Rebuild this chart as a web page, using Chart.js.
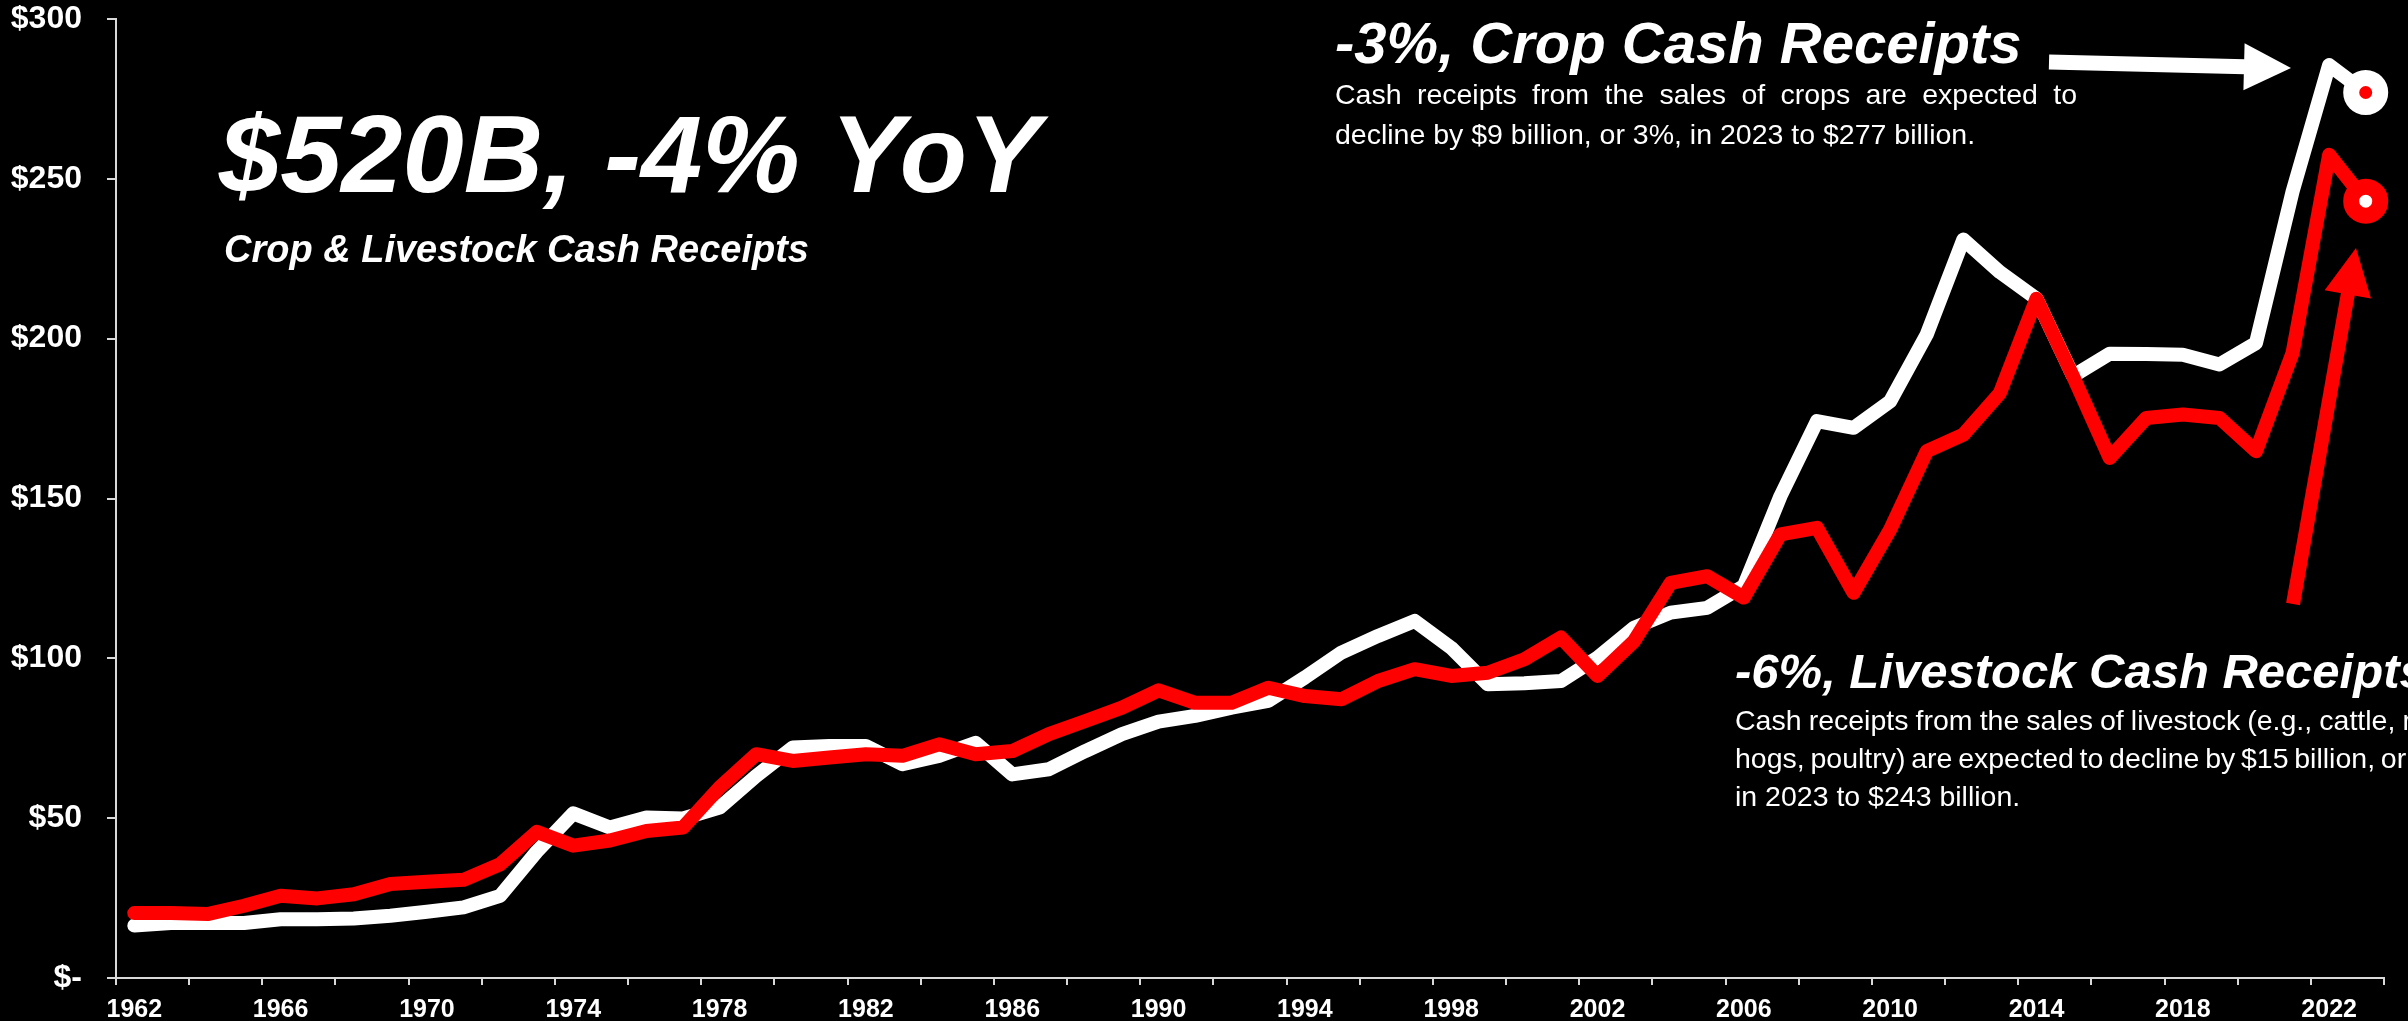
<!DOCTYPE html>
<html><head><meta charset="utf-8">
<script src="https://cdn.jsdelivr.net/npm/chart.js@4.4.1/dist/chart.umd.min.js"></script>
<style>html,body{margin:0;padding:0;background:#000;overflow:hidden}canvas{display:block}</style>
</head><body>
<canvas id="c" width="2408" height="1021" style="width:2408px;height:1021px"></canvas>
<script>
// ---------------- DATA ----------------
const years = ['1962','1963','1964','1965','1966','1967','1968','1969','1970','1971',
  '1972','1973','1974','1975','1976','1977','1978','1979','1980','1981',
  '1982','1983','1984','1985','1986','1987','1988','1989','1990','1991',
  '1992','1993','1994','1995','1996','1997','1998','1999','2000','2001',
  '2002','2003','2004','2005','2006','2007','2008','2009','2010','2011',
  '2012','2013','2014','2015','2016','2017','2018','2019','2020','2021',
  '2022','2023'];

// Crop cash receipts, $ billions (white line)
const cropReceipts = [16.4,17.2,17.2,17.2,18.4,18.4,18.6,19.5,20.7,22.1,
  25.7,39.5,51.5,47.1,50.2,49.9,53.3,63.2,72.1,72.6,
  72.6,66.9,69.5,73.6,63.7,65.3,71.0,76.3,80.2,82.0,
  84.6,86.7,94.0,101.8,107.0,111.7,103.3,91.9,92.2,92.9,
  100.2,109.6,114.3,115.8,122.6,150.7,174.2,172.1,180.4,201.3,
  231.0,220.8,212.5,188.3,195.3,195.2,195.0,191.9,198.6,246.0,
  285.6,277.0];

// Livestock cash receipts, $ billions (red line)
const livestockReceipts = [20.3,20.3,20.0,22.6,25.7,24.9,26.2,29.4,30.1,30.7,
  35.6,45.7,41.4,43.0,46.0,47.1,59.6,70.0,67.9,69.0,
  70.0,69.5,73.1,70.0,71.0,76.3,80.4,84.6,90.0,86.1,
  86.1,90.8,88.2,87.2,92.9,96.6,94.5,95.5,99.7,106.5,
  94.5,105.4,123.6,125.7,119.0,138.8,140.8,120.5,140.3,164.8,
  170.0,183.0,212.5,188.2,162.7,175.2,176.3,175.2,164.8,195.5,
  257.5,243.0];

const yTickValues = [0,50,100,150,200,250,300];
const xLabelEvery = 4;
const xTickEvery = 2;

const titleText = '$520B, -4% YoY';
const subtitleText = 'Crop & Livestock Cash Receipts';
const cropHeader = '-3%, Crop Cash Receipts';
const cropBody = ['Cash receipts from the sales of crops are expected to',
                  'decline by $9 billion, or 3%, in 2023 to $277 billion.'];
const livestockHeader = '-6%, Livestock Cash Receipts';
const livestockBody = ['Cash receipts from the sales of livestock (e.g., cattle, milk,',
                       'hogs, poultry) are expected to decline by $15 billion, or 6%,',
                       'in 2023 to $243 billion.'];

// ---------------- STYLE ----------------
const FONT = '"Liberation Sans", Arial, sans-serif';
const WHITE = '#ffffff';
const RED = '#ff0000';
const AXIS = '#d9d9d9';
const lastIdx = years.length - 1;

function drawJustified(ctx, text, x, y, width) {
  const words = text.split(' ');
  const ws = words.map(w => ctx.measureText(w).width);
  const total = ws.reduce((a, b) => a + b, 0);
  const gap = (width - total) / (words.length - 1);
  let cx = x;
  words.forEach((w, i) => { ctx.fillText(w, cx, y); cx += ws[i] + gap; });
}

function arrow(ctx, x0, y0, x1, y1, shaftW, headW, headL, color) {
  const dx = x1 - x0, dy = y1 - y0, L = Math.hypot(dx, dy);
  const ux = dx / L, uy = dy / L, px = -uy, py = ux;
  const bx = x1 - ux * headL, by = y1 - uy * headL;
  ctx.fillStyle = color;
  ctx.beginPath();
  ctx.moveTo(x0 + px * shaftW / 2, y0 + py * shaftW / 2);
  ctx.lineTo(bx + px * shaftW / 2 + ux, by + py * shaftW / 2 + uy);
  ctx.lineTo(bx - px * shaftW / 2 + ux, by - py * shaftW / 2 + uy);
  ctx.lineTo(x0 - px * shaftW / 2, y0 - py * shaftW / 2);
  ctx.closePath();
  ctx.fill();
  ctx.beginPath();
  ctx.moveTo(bx + px * headW / 2, by + py * headW / 2);
  ctx.lineTo(x1, y1);
  ctx.lineTo(bx - px * headW / 2, by - py * headW / 2);
  ctx.closePath();
  ctx.fill();
}

const bgPlugin = {
  id: 'bg',
  beforeDraw(chart) {
    const ctx = chart.ctx;
    ctx.save();
    ctx.fillStyle = '#000';
    ctx.fillRect(0, 0, chart.width, chart.height);
    ctx.restore();
  }
};

const annotPlugin = {
  id: 'annot',
  afterDraw(chart) {
    const ctx = chart.ctx;
    ctx.save();
    ctx.fillStyle = WHITE;
    ctx.textBaseline = 'alphabetic';
    ctx.textAlign = 'left';

    ctx.font = 'italic bold 110px ' + FONT;
    ctx.fillText(titleText, 219, 192);
    ctx.font = 'italic bold 38px ' + FONT;
    ctx.fillText(subtitleText, 224, 262);

    ctx.font = 'italic bold 58px ' + FONT;
    ctx.fillText(cropHeader, 1335, 63);
    ctx.font = '28.5px ' + FONT;
    drawJustified(ctx, cropBody[0], 1335, 104, 742);
    ctx.fillText(cropBody[1], 1335, 144);

    ctx.font = 'italic bold 49px ' + FONT;
    ctx.fillText(livestockHeader, 1735, 688);
    ctx.font = '28.5px ' + FONT;
    drawJustified(ctx, livestockBody[0], 1735, 730, 726);
    drawJustified(ctx, livestockBody[1], 1735, 768, 726);
    ctx.fillText(livestockBody[2], 1735, 806);

    // arrows
    arrow(ctx, 2049, 62, 2291, 68, 15, 47, 47, WHITE);
    arrow(ctx, 2293, 604, 2356, 248, 14, 47, 47, RED);
    ctx.restore();
  }
};

new Chart(document.getElementById('c'), {
  type: 'line',
  data: {
    labels: years,
    datasets: [
      {
        label: 'Crop Cash Receipts',
        data: cropReceipts,
        borderColor: WHITE,
        borderWidth: 14,
        borderJoinStyle: 'round',
        borderCapStyle: 'round',
        tension: 0,
        fill: false,
        clip: false,
        order: 1,
        pointRadius: ctx => ctx.dataIndex === lastIdx ? 14.5 : 0,
        pointHoverRadius: ctx => ctx.dataIndex === lastIdx ? 14.5 : 0,
        pointBackgroundColor: RED,
        pointBorderColor: WHITE,
        pointBorderWidth: 16
      },
      {
        label: 'Livestock Cash Receipts',
        data: livestockReceipts,
        borderColor: RED,
        borderWidth: 14,
        borderJoinStyle: 'round',
        borderCapStyle: 'round',
        tension: 0,
        fill: false,
        clip: false,
        order: 0,
        pointRadius: ctx => ctx.dataIndex === lastIdx ? 14.5 : 0,
        pointHoverRadius: ctx => ctx.dataIndex === lastIdx ? 14.5 : 0,
        pointBackgroundColor: WHITE,
        pointBorderColor: RED,
        pointBorderWidth: 16
      }
    ]
  },
  options: {
    responsive: false,
    devicePixelRatio: 1,
    animation: false,
    events: [],
    layout: { autoPadding: false, padding: { top: 19, right: 24, bottom: 0, left: 0 } },
    plugins: { legend: { display: false }, tooltip: { enabled: false } },
    scales: {
      x: {
        type: 'category',
        offset: true,
        border: { display: true, color: AXIS, width: 2 },
        grid: {
          offset: true,
          drawOnChartArea: false,
          drawTicks: true,
          tickLength: 7,
          tickWidth: 2,
          lineWidth: 2,
          color: AXIS,
          tickColor: ctx => (ctx.index === undefined || ctx.index % xTickEvery === 0) ? AXIS : 'rgba(0,0,0,0)'
        },
        ticks: {
          autoSkip: false,
          maxRotation: 0,
          minRotation: 0,
          padding: 10,
          color: WHITE,
          font: { family: FONT, size: 25, weight: 'bold' },
          callback: (v, i) => i % xLabelEvery === 0 ? years[i] : ''
        },
        afterFit: s => { s.height = 43; s.paddingLeft = 0; s.paddingRight = 0; }
      },
      y: {
        min: 0,
        max: 300,
        afterBuildTicks: axis => { axis.ticks = yTickValues.map(v => ({ value: v })); },
        border: { display: true, color: AXIS, width: 2 },
        grid: {
          drawOnChartArea: false,
          drawTicks: true,
          tickLength: 9,
          tickWidth: 2,
          lineWidth: 2,
          color: AXIS,
          tickColor: AXIS
        },
        ticks: {
          padding: 25,
          color: WHITE,
          font: { family: FONT, size: 32, weight: 'bold' },
          callback: v => v === 0 ? '$-' : '$' + v
        },
        afterFit: s => { s.width = 116; s.paddingTop = 0; s.paddingBottom = 0; }
      }
    }
  },
  plugins: [bgPlugin, annotPlugin]
});
</script>
</body></html>
